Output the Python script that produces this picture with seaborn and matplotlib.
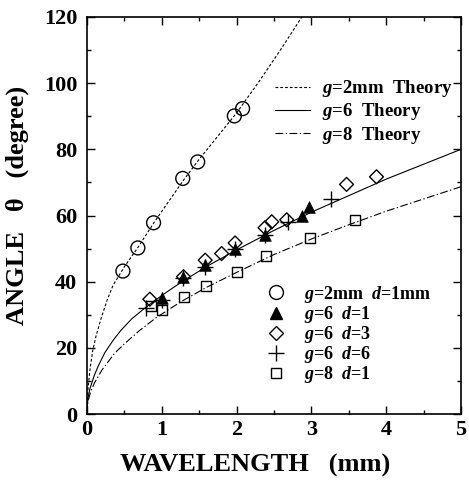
import matplotlib
matplotlib.use("Agg")
import matplotlib.pyplot as plt
import seaborn as sns
from matplotlib.lines import Line2D
from matplotlib.ticker import MultipleLocator

# ---- data ----
# theory curves
th2_x = [0, 0.005, 0.01, 0.02, 0.04, 0.075, 0.12, 0.19, 0.27, 0.35, 0.5, 0.7, 0.9, 1.1, 1.3, 1.5, 1.75, 2.0, 2.3, 2.6, 2.9]
th2_y = [0, 4.5, 6.5, 9, 13.5, 19, 23.5, 29, 34.5, 39, 44.5, 51, 58, 64.5, 71, 77, 84, 91, 100.5, 110.5, 121]
th6_x = [0, 0.005, 0.01, 0.02, 0.04, 0.066, 0.1, 0.15, 0.24, 0.35, 0.45, 0.6, 0.75, 0.9, 1.1, 1.3, 1.6, 2.0, 2.5, 3.0, 3.5, 4.0, 4.5, 5.0]
th6_y = [0, 2.8, 4.0, 5.6, 7.7, 9.5, 11.8, 14.5, 18.6, 22.3, 25.2, 28.8, 31.6, 34.2, 37.4, 40.4, 44.6, 49.6, 55.5, 61, 66, 71, 75.5, 80]
th8_x = [0, 0.005, 0.01, 0.02, 0.05, 0.1, 0.2, 0.37, 0.5, 0.7, 0.93, 1.15, 1.3, 1.6, 2.0, 2.5, 3.0, 3.5, 4.0, 4.5, 5.0]
th8_y = [0, 2.2, 3.1, 4.4, 6.8, 9.4, 13.3, 18.4, 21.2, 25.2, 29.2, 32.4, 34.5, 38.3, 42.8, 48.2, 52.9, 57.2, 61.3, 65.0, 68.7]

# measured data
g2_x = [0.48, 0.68, 0.89, 1.28, 1.48, 1.97, 2.08]
g2_y = [43.2, 50.2, 57.8, 71.2, 76.2, 90.1, 92.3]
g6d1_x = [1.0, 1.29, 1.58, 1.98, 2.38, 2.87, 2.97]
g6d1_y = [35.2, 41.5, 45.0, 50.0, 54.0, 60.0, 62.5]
g6d3_x = [0.84, 1.29, 1.58, 1.80, 1.98, 2.38, 2.47, 2.67, 3.47, 3.87]
g6d3_y = [34.7, 41.5, 46.5, 48.5, 51.7, 56.3, 58.1, 58.7, 69.4, 71.7]
g6d6_x = [0.79, 1.0, 1.29, 1.58, 1.98, 2.38, 2.69, 3.26]
g6d6_y = [32.1, 34.5, 41.0, 44.5, 50.0, 54.0, 58.1, 65.0]
g8_x = [0.85, 1.0, 1.30, 1.59, 2.0, 2.39, 2.98, 3.58]
g8_y = [32.5, 31.3, 35.3, 38.7, 43.0, 47.7, 53.1, 58.6]

theory_labels = [r"$g$=2mm  Theory", r"$g$=6  Theory", r"$g$=8  Theory"]
data_labels = [r"$g$=2mm  $d$=1mm", r"$g$=6  $d$=1", r"$g$=6  $d$=3",
               r"$g$=6  $d$=6", r"$g$=8  $d$=1"]

sns.set_theme(style="ticks")
plt.rcParams["font.family"] = ["Liberation Serif", "DejaVu Serif"]
plt.rcParams["font.weight"] = "bold"
plt.rcParams["text.color"] = "black"
plt.rcParams["axes.labelcolor"] = "black"
plt.rcParams["xtick.color"] = "black"
plt.rcParams["ytick.color"] = "black"
plt.rcParams["mathtext.fontset"] = "custom"
plt.rcParams["mathtext.it"] = "Liberation Serif:italic:bold"
plt.rcParams["mathtext.rm"] = "Liberation Serif:bold"
plt.rcParams["mathtext.bf"] = "Liberation Serif:bold"

fig = plt.figure(figsize=(4.69, 4.92), dpi=100)
ax = fig.add_axes([87/469, 1-414/492, (461-87)/469, (414-17)/492])

lw = 0.8
dashed = (0, (2.5, 1.8))
dashdot = (0, (7, 2.2, 1.2, 2.2))

sns.lineplot(x=th2_x, y=th2_y, ax=ax, color="black", lw=lw, linestyle=dashed, sort=False, estimator=None)
sns.lineplot(x=th6_x, y=th6_y, ax=ax, color="black", lw=lw, linestyle="-", sort=False, estimator=None)
sns.lineplot(x=th8_x, y=th8_y, ax=ax, color="black", lw=lw, linestyle=dashdot, sort=False, estimator=None)

sns.scatterplot(x=g8_x, y=g8_y, ax=ax, marker="s", s=52, color="none", edgecolor="black", linewidth=1.0, zorder=5)
sns.scatterplot(x=g6d3_x, y=g6d3_y, ax=ax, marker="D", s=50, color="none", edgecolor="black", linewidth=1.0, zorder=5)
sns.scatterplot(x=g6d1_x, y=g6d1_y, ax=ax, marker="^", s=70, color="black", edgecolor="black", linewidth=0.5, zorder=6)
sns.scatterplot(x=g6d6_x, y=g6d6_y, ax=ax, marker="+", s=130, color="black", linewidth=1.0, zorder=7)
sns.scatterplot(x=g2_x, y=g2_y, ax=ax, marker="o", s=100, color="none", edgecolor="black", linewidth=1.0, zorder=5)

ax.set_xlim(0, 5)
ax.set_ylim(0, 120)
ax.xaxis.set_major_locator(MultipleLocator(1))
ax.xaxis.set_minor_locator(MultipleLocator(0.5))
ax.yaxis.set_major_locator(MultipleLocator(20))
ax.yaxis.set_minor_locator(MultipleLocator(10))
ax.tick_params(which="both", direction="in", top=True, right=True, colors="black")
ax.tick_params(which="major", length=6, width=1.0)
ax.tick_params(which="minor", length=3, width=1.0)
ax.tick_params(axis="x", which="major", pad=4, labelsize=16)
ax.tick_params(axis="y", which="major", pad=7, labelsize=16)
for lab in ax.get_xticklabels() + ax.get_yticklabels():
    lab.set_fontweight("bold")
for sp in ax.spines.values():
    sp.set_linewidth(1.2)
    sp.set_color("black")

ax.set_xlabel("WAVELENGTH   (mm)", fontsize=19, fontweight="bold", color="black")
ax.set_ylabel("ANGLE   \u03b8   (degree)", fontsize=19, fontweight="bold", color="black")
ax.xaxis.set_label_coords(0.45, -0.1)
ax.yaxis.set_label_coords(-0.155, 0.526)

h1 = [Line2D([], [], color="black", lw=lw, linestyle=dashed),
      Line2D([], [], color="black", lw=lw, linestyle="-"),
      Line2D([], [], color="black", lw=lw, linestyle=dashdot)]
leg1 = ax.legend(h1, theory_labels, loc="upper left", bbox_to_anchor=(0.503, 0.846),
                 frameon=False, borderpad=0, borderaxespad=0, handlelength=1.87,
                 handletextpad=0.64, labelspacing=0.12,
                 prop={"family": "Liberation Serif", "weight": "bold", "size": 13.5})
ax.add_artist(leg1)

h2 = [Line2D([], [], ls="none", marker="o", ms=10, mfc="none", mec="black", mew=1.0),
      Line2D([], [], ls="none", marker="^", ms=8.5, mfc="black", mec="black"),
      Line2D([], [], ls="none", marker="D", ms=7, mfc="none", mec="black", mew=1.0),
      Line2D([], [], ls="none", marker="+", ms=11, mec="black", mew=1.0),
      Line2D([], [], ls="none", marker="s", ms=7, mfc="none", mec="black", mew=1.0)]
leg2 = ax.legend(h2, data_labels, loc="upper left", bbox_to_anchor=(0.480, 0.328),
                 frameon=False, borderpad=0, borderaxespad=0, handlelength=1.0,
                 handletextpad=1.1, labelspacing=-0.05,
                 prop={"family": "Liberation Serif", "weight": "bold", "size": 13})
for t in leg1.get_texts() + leg2.get_texts():
    t.set_color("black")

fig.savefig("out.png", dpi=100)
